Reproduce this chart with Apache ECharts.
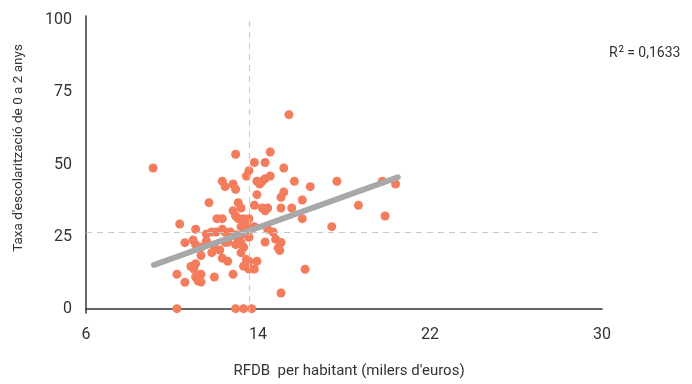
<!DOCTYPE html>
<html>
<head>
<meta charset="utf-8">
<script src="https://cdn.jsdelivr.net/npm/echarts@6/dist/echarts.min.js"></script>
<style>
  html, body { margin: 0; padding: 0; background: #fff; }
  #chart { width: 692px; height: 384px; }
</style>
</head>
<body>
<div id="chart"></div>
<script>
// RFDB per habitant (milers d'euros)
const rfdb = [
  15.44, 12.96, 14.57, 13.83, 14.33, 15.20, 9.12, 13.58, 13.46, 14.57,
  14.33, 14.20, 13.95, 14.08, 12.34, 12.47, 12.84, 12.96, 15.69, 17.67,
  16.43, 19.78, 20.40, 15.20, 15.07, 13.95, 16.06, 11.72, 13.08, 13.83,
  18.67, 14.20, 14.45, 14.33, 15.07, 15.57, 13.21, 12.84, 12.96, 19.91,
  16.06, 12.09, 12.34, 13.33, 13.58, 13.08, 10.36, 13.46, 13.21, 13.33,
  13.83, 13.71, 17.43, 11.10, 11.60, 11.85, 12.05, 12.34, 12.47, 14.45,
  14.70, 12.71, 12.96, 13.33, 13.46, 13.58, 12.96, 10.60, 10.98, 11.10,
  11.35, 11.60, 11.85, 12.22, 11.97, 12.47, 12.59, 13.08, 13.21, 12.96,
  13.33, 13.21, 14.33, 14.82, 15.07, 14.94, 15.01, 11.35, 12.34, 12.59,
  13.46, 13.58, 13.95, 10.88, 11.10, 11.02, 13.33, 13.46, 13.58, 13.83,
  16.19, 10.23, 11.35, 11.97, 12.84, 10.60, 11.10, 11.22, 11.35, 15.07,
  10.23, 12.96, 13.33, 13.71
];
// Taxa d'escolarització de 0 a 2 anys
const taxa = [
  67.28, 53.54, 54.35, 50.70, 50.70, 48.79, 48.79, 47.86, 46.02, 46.02,
  45.09, 44.18, 44.18, 43.24, 44.18, 42.32, 43.24, 41.41, 44.18, 44.18,
  42.32, 44.18, 43.24, 40.47, 38.64, 39.53, 37.70, 36.76, 36.76, 35.86,
  35.86, 34.92, 34.92, 33.98, 34.92, 34.92, 34.92, 33.98, 32.15, 32.15,
  31.21, 31.21, 31.21, 31.21, 31.21, 31.21, 29.38, 29.38, 28.44, 28.34,
  28.44, 27.64, 28.44, 27.54, 25.91, 26.60, 26.60, 27.54, 26.60, 27.54,
  26.60, 26.60, 25.66, 25.91, 25.91, 24.76, 25.22, 22.89, 23.83, 22.20,
  21.29, 23.48, 19.42, 20.36, 21.06, 23.02, 23.02, 23.83, 22.96, 22.20,
  21.29, 19.42, 23.14, 24.06, 22.96, 21.06, 20.18, 18.45, 17.48, 16.44,
  17.06, 16.44, 16.44, 14.64, 15.61, 13.76, 14.70, 14.57, 13.76, 13.76,
  13.66, 11.93, 11.93, 10.99, 11.93, 9.16, 10.99, 9.60, 9.26, 5.44,
  0, 0, 0, 0
];
const meanX = 13.58;
const meanY = 26.43;
const trendX = [9.16, 20.5];
const trendY = [15.16, 45.58];
const xTicks = [6, 14, 22, 30];
const yTicks = [0, 25, 50, 75, 100];
const r2 = '0,1633';

const points = rfdb.map((x, i) => [x, taxa[i]]);
const trend = trendX.map((x, i) => [x, trendY[i]]);

const textColor = '#333';
const font = 'Roboto, "Noto Sans", sans-serif';

const option = {
  animation: false,
  grid: { left: 86, right: 90, top: 16, bottom: 71 },
  xAxis: {
    type: 'value',
    min: 6,
    max: 30,
    interval: 2,
    name: "RFDB  per habitant (milers d'euros)",
    nameLocation: 'middle',
    nameGap: 51,
    nameTextStyle: { color: textColor, fontSize: 15, fontFamily: font, padding: [0, 0, 0, 10] },
    axisLine: { lineStyle: { color: '#333', width: 1.5 } },
    axisTick: { show: false },
    splitLine: { show: false },
    axisLabel: {
      color: textColor, fontSize: 16, fontFamily: font, margin: 14,
      formatter: v => (xTicks.includes(v) ? String(v) : '')
    }
  },
  yAxis: {
    type: 'value',
    min: -1.5,
    max: 101.5,
    interval: 0.5,
    axisLine: { show: true, lineStyle: { color: '#333', width: 1.5 } },
    axisTick: { show: false },
    splitLine: { show: false },
    axisLabel: {
      color: textColor, fontSize: 16, fontFamily: font, margin: 14,
      formatter: v => (yTicks.includes(v) ? String(v) : '')
    }
  },
  graphic: [
    {
      type: 'text',
      x: 19,
      y: 148,
      rotation: Math.PI / 2,
      style: {
        text: "Taxa d'escolarització de 0 a 2 anys",
        fill: textColor,
        font: '13.5px ' + font,
        align: 'center',
        verticalAlign: 'middle'
      }
    },
    {
      type: 'text',
      left: 609,
      top: 45,
      style: {
        text: '{a|R}{s|2}{a| = ' + r2 + '}',
        rich: {
          a: { fontSize: 14, fontFamily: font, fill: textColor, color: textColor },
          s: { fontSize: 9, fontFamily: font, color: textColor, padding: [0, 0, 8, 1] }
        }
      }
    }
  ],
  series: [
    {
      type: 'scatter',
      data: points,
      symbolSize: 9,
      itemStyle: { color: '#f27c5c', opacity: 1 },
      z: 2,
      markLine: {
        silent: true,
        symbol: ['none', 'none'],
        label: { show: false },
        lineStyle: { color: '#c8c8c8', type: [6, 5], width: 1 },
        data: [{ xAxis: meanX }, { yAxis: meanY }]
      }
    },
    {
      type: 'line',
      data: trend,
      symbol: 'none',
      z: 3,
      lineStyle: { color: '#a8a8aa', width: 6, cap: 'round' }
    }
  ]
};

const chart = echarts.init(document.getElementById('chart'));
chart.setOption(option);
</script>
</body>
</html>
